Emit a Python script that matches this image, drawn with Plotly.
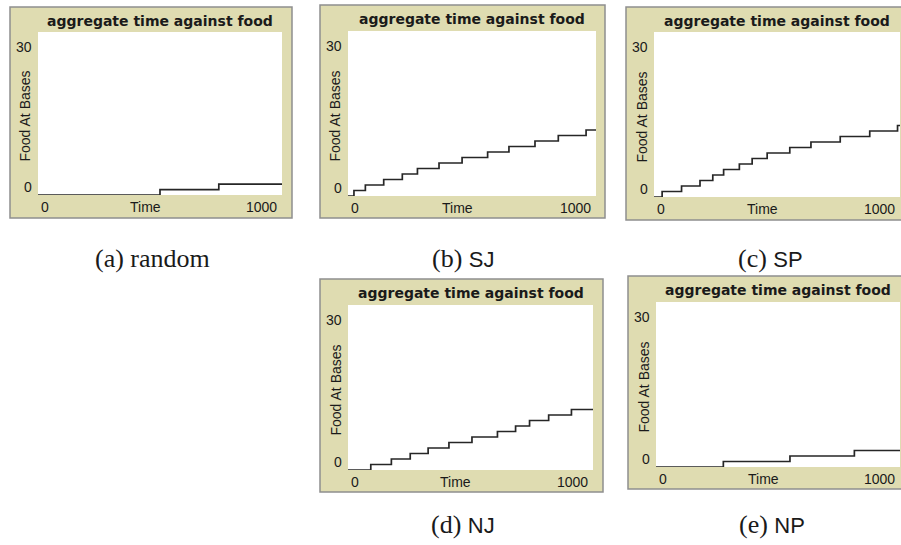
import plotly.graph_objects as go

# ---------------- data ----------------
chart_title = "aggregate time against food"
x_axis_name = "Time"
y_axis_name = "Food At Bases"
x_tick_labels = ["0", "1000"]
y_tick_labels = ["0", "30"]
x_range = [0, 1000]
y_range = [0, 30]

time_random = [0, 500, 741, 1000]
food_random = [0, 1, 2, 2]

time_sj = [0, 24, 70, 144, 219, 280, 367, 460, 563, 649, 754, 848, 960, 1000]
food_sj = [0, 1, 2, 3, 4, 5, 6, 7, 8, 9, 10, 11, 12, 12]

time_sp = [0, 33, 112, 187, 239, 283, 347, 399, 460, 552, 638, 757, 877, 990, 1000]
food_sp = [0, 1, 2, 3, 4, 5, 6, 7, 8, 9, 10, 11, 12, 13, 13]

time_nj = [0, 93, 177, 254, 327, 412, 506, 610, 684, 741, 819, 912, 1000]
food_nj = [0, 1, 2, 3, 4, 5, 6, 7, 8, 9, 10, 11, 11]

time_np = [0, 276, 549, 813, 1000]
food_np = [0, 1, 2, 3, 3]

caption_letters = ["(a)", "(b)", "(c)", "(d)", "(e)"]
caption_names = ["random", "SJ", "SP", "NJ", "NP"]

series = [
    (time_random, food_random),
    (time_sj, food_sj),
    (time_sp, food_sp),
    (time_nj, food_nj),
    (time_np, food_np),
]

# ---------------- layout (pixel geometry, page coordinates) ----------------
W, H = 901, 545
# outer frame (x0, y0, x1, y1), plot area (x0, y0, x1, y1), caption centre (x, y)
panels = [
    dict(outer=(10, 7, 292, 218), plot=(38, 32, 282, 195), cap=(152, 258)),
    dict(outer=(320, 5, 605, 218), plot=(348, 31, 596, 196), cap=(463, 258)),
    dict(outer=(626, 7, 915, 220), plot=(654, 32, 900, 197), cap=(770, 258)),
    dict(outer=(320, 279, 603, 492), plot=(348, 305, 593, 470), cap=(463, 524)),
    dict(outer=(628, 276, 915, 489), plot=(656, 302, 900, 467), cap=(772, 524)),
]


def fx(x):
    return x / W


def fy(y):
    return 1 - y / H


FRAME_FILL = "#dfdcb1"
FRAME_LINE = "#8f8f8f"
TEXT = "#1a1a1a"
LINE = "#262626"
SANS = "Liberation Sans"
TITLE_FONT = "DejaVu Sans"
SERIF = "Liberation Serif"

fig = go.Figure()
shapes = []
annotations = []
layout_axes = {}


def label(text, x, y, xanchor="center", size=14, family=SANS, angle=0):
    return dict(text=text, x=fx(x), y=fy(y), xref="paper", yref="paper",
                showarrow=False, xanchor=xanchor, yanchor="middle", textangle=angle,
                font=dict(family=family, size=size, color=TEXT))


for i, (p, (t, f)) in enumerate(zip(panels, series)):
    n = "" if i == 0 else str(i + 1)
    ox0, oy0, ox1, oy1 = p["outer"]
    px0, py0, px1, py1 = p["plot"]

    # frame + white plotting area
    shapes.append(dict(type="rect", xref="paper", yref="paper", layer="below",
                       x0=fx(ox0), x1=fx(ox1), y0=fy(oy1), y1=fy(oy0),
                       fillcolor=FRAME_FILL, line=dict(color=FRAME_LINE, width=1.5)))
    shapes.append(dict(type="rect", xref="paper", yref="paper", layer="below",
                       x0=fx(px0), x1=fx(px1), y0=fy(py1), y1=fy(py0),
                       fillcolor="white", line=dict(width=0)))

    fig.add_trace(go.Scatter(
        x=t, y=f, mode="lines", line=dict(color=LINE, width=1.7, shape="hv"),
        xaxis="x" + n, yaxis="y" + n, showlegend=False, hoverinfo="x+y"))

    layout_axes["xaxis" + n] = dict(domain=[fx(px0), fx(px1)], range=x_range,
                                    anchor="y" + n, visible=False, fixedrange=True)
    layout_axes["yaxis" + n] = dict(domain=[fy(py1), fy(py0)], range=y_range,
                                    anchor="x" + n, visible=False, fixedrange=True)

    annotations.append(label("<b>" + chart_title + "</b>", (px0 + px1) / 2, oy0 + 14,
                             family=TITLE_FONT, size=14))
    annotations.append(label(y_tick_labels[1], px0 - 4, py0 + 15, xanchor="right"))
    annotations.append(label(y_tick_labels[0], px0 - 4, py1 - 8, xanchor="right"))
    annotations.append(label(y_axis_name, px0 - 13, (py0 + py1) / 2 + 3, angle=-90))
    annotations.append(label(x_tick_labels[0], px0 + 1, py1 + 12, xanchor="left"))
    annotations.append(label(x_axis_name, px0 + (px1 - px0) * 0.44, py1 + 12))
    annotations.append(label(x_tick_labels[1], px1 - 3, py1 + 12, xanchor="right"))

    cx, cy = p["cap"]
    name = caption_names[i]
    if i == 0:
        cap_text = caption_letters[i] + " " + name
    else:
        cap_text = (caption_letters[i] + " <span style='font-family:Liberation Sans;"
                    "font-size:22px'>" + name + "</span>")
    annotations.append(label(cap_text, cx, cy, family=SERIF, size=26))

fig.update_layout(
    width=W, height=H, margin=dict(l=0, r=0, t=0, b=0),
    paper_bgcolor="white", plot_bgcolor="rgba(0,0,0,0)",
    shapes=shapes, annotations=annotations, showlegend=False,
    **layout_axes)

fig.write_html(
    "out.html",
    config={"displayModeBar": False, "staticPlot": True},
    post_script="document.body.style.margin='0';document.body.style.overflow='hidden';",
)
